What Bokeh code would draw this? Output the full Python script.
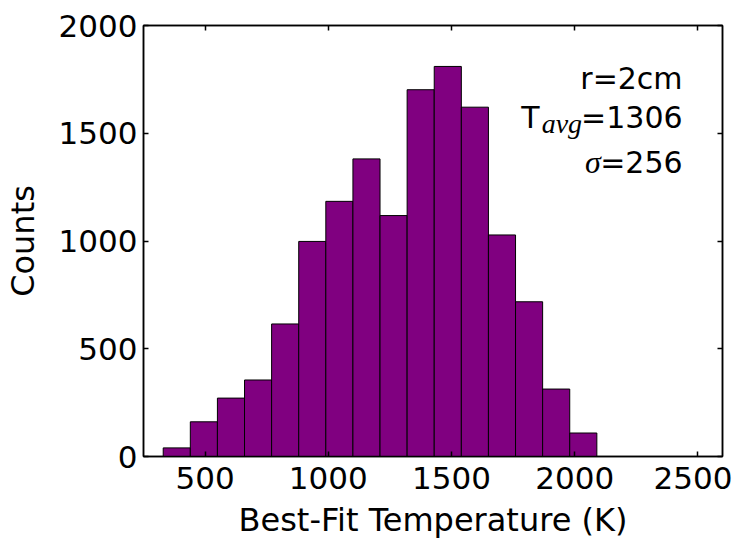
from bokeh.plotting import figure
from bokeh.models import LinearAxis, Range1d, FixedTicker, Label, CustomJSTickFormatter
from bokeh.embed import file_html
from bokeh.resources import INLINE

# Histogram data (bin edges in K, counts)
bin_start = 330
bin_width = 110
counts = [40, 161, 271, 355, 615, 998, 1184, 1381, 1118, 1702, 1810, 1621, 1028, 718, 313, 109]
left_edges = [bin_start + i * bin_width for i in range(len(counts))]
right_edges = [e + bin_width for e in left_edges]

x_ticks = [500, 1000, 1500, 2000, 2500]
y_ticks = [0, 500, 1000, 1500, 2000]

FONT = "DejaVu Sans"
TICK_FS = "31px"
LABEL_FS = "32px"
ANN_FS = "30px"

p = figure(frame_width=579, frame_height=431,
           min_border_left=143, min_border_right=10, min_border_top=25, min_border_bottom=86,
           x_range=Range1d(250, 2600), y_range=Range1d(0, 2000),
           output_backend="svg", toolbar_location=None, tools="")
p.background_fill_color = "white"
p.border_fill_color = "white"
p.grid.visible = False
p.outline_line_color = "black"
p.outline_line_width = 1.5

p.quad(left=left_edges, right=right_edges, bottom=0, top=counts,
       fill_color="#800080", line_color="black", line_width=1)

for ax in (p.xaxis[0], p.yaxis[0]):
    ax.major_label_text_font = FONT
    ax.major_label_text_font_size = TICK_FS
    ax.major_label_text_color = "black"
    ax.axis_label_text_font = FONT
    ax.axis_label_text_font_size = LABEL_FS
    ax.axis_label_text_font_style = "normal"
    ax.axis_label_text_color = "black"
    ax.major_tick_in = 5
    ax.major_tick_out = 0
    ax.minor_tick_line_color = None
    ax.axis_line_width = 1.5
    ax.major_tick_line_width = 1.5

p.xaxis[0].ticker = FixedTicker(ticks=x_ticks)
p.yaxis[0].ticker = FixedTicker(ticks=y_ticks)
p.xaxis[0].axis_label = "Best-Fit Temperature (K)"
p.yaxis[0].axis_label = "Counts"
p.xaxis[0].major_label_standoff = 10
p.yaxis[0].major_label_standoff = 6
p.xaxis[0].axis_label_standoff = 9
p.yaxis[0].axis_label_standoff = 14

blank = CustomJSTickFormatter(code="return ''")
top_ax = LinearAxis(ticker=FixedTicker(ticks=x_ticks), formatter=blank,
                    major_tick_in=5, major_tick_out=0, minor_tick_line_color=None,
                    axis_line_width=1.5, major_tick_line_width=1.5,
                    major_label_text_font_size="1px", major_label_standoff=0)
right_ax = LinearAxis(ticker=FixedTicker(ticks=y_ticks), formatter=blank,
                      major_tick_in=5, major_tick_out=0, minor_tick_line_color=None,
                      axis_line_width=1.5, major_tick_line_width=1.5,
                      major_label_text_font_size="1px", major_label_standoff=0)
p.add_layout(top_ax, "above")
p.add_layout(right_ax, "right")

# Annotations
ann_x = 2438
p.add_layout(Label(x=ann_x, y=1752, text="r=2cm", text_align="right", text_baseline="alphabetic",
                   text_font=FONT, text_font_size=ANN_FS, text_color="black"))
p.add_layout(Label(x=ann_x, y=1574, text="=1306", text_align="right", text_baseline="alphabetic",
                   text_font=FONT, text_font_size=ANN_FS, text_color="black"))
p.add_layout(Label(x=1858, y=1574, text="T", text_align="right", text_baseline="alphabetic",
                   text_font=FONT, text_font_size=ANN_FS, text_color="black"))
p.add_layout(Label(x=1866, y=1545, text="avg", text_align="left", text_baseline="alphabetic",
                   text_font="Liberation Serif", text_font_style="italic", text_font_size="28px",
                   text_color="black"))
p.add_layout(Label(x=ann_x, y=1365, text="=256", text_align="right", text_baseline="alphabetic",
                   text_font=FONT, text_font_size=ANN_FS, text_color="black"))
p.add_layout(Label(x=2106, y=1365, text="σ", text_align="right", text_baseline="alphabetic",
                   text_font="Liberation Serif", text_font_style="italic", text_font_size="32px",
                   text_color="black"))

open("out.html", "w").write(file_html(p, INLINE))
